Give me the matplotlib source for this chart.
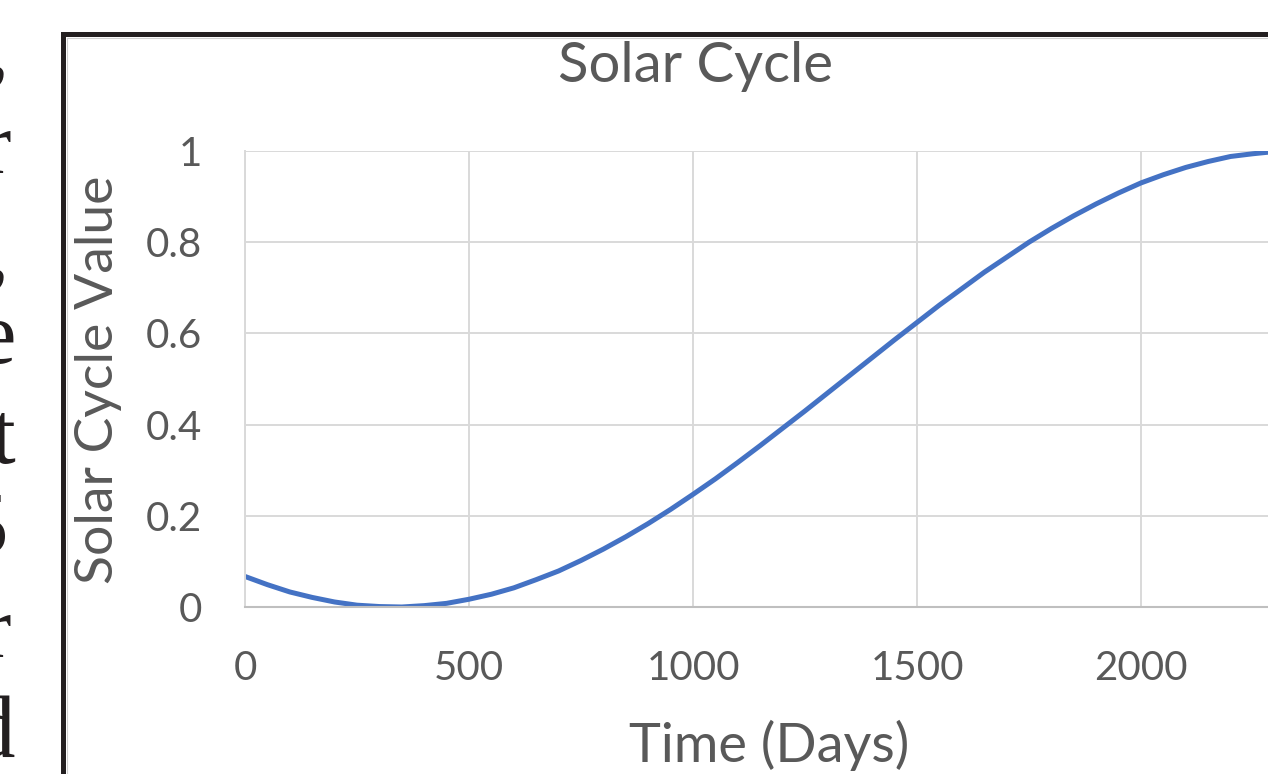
import matplotlib
matplotlib.use("Agg")
import matplotlib.pyplot as plt
from matplotlib.patches import Rectangle

# --- Data ---
days = [0, 50, 100, 150, 200, 250, 300, 350, 400, 450, 500, 550, 600, 650,
        700, 750, 800, 850, 900, 950, 1000, 1050, 1100, 1150, 1200, 1250,
        1300, 1350, 1400, 1450, 1500, 1550, 1600, 1650, 1700, 1750, 1800,
        1850, 1900, 1950, 2000, 2050, 2100, 2150, 2200, 2250, 2300, 2350]
solar_value = [0.067, 0.049, 0.033, 0.021, 0.011, 0.004, 0.001, 0.000, 0.003,
               0.008, 0.017, 0.028, 0.042, 0.060, 0.079, 0.102, 0.127, 0.154,
               0.183, 0.214, 0.247, 0.281, 0.317, 0.354, 0.392, 0.430, 0.469,
               0.508, 0.547, 0.586, 0.624, 0.662, 0.698, 0.734, 0.767, 0.800,
               0.830, 0.858, 0.884, 0.908, 0.930, 0.948, 0.964, 0.977, 0.988,
               0.994, 0.999, 1.000]

x_ticks = [0, 500, 1000, 1500, 2000]
y_ticks = [0, 0.2, 0.4, 0.6, 0.8, 1.0]
y_tick_labels = ["0", "0.2", "0.4", "0.6", "0.8", "1"]

# cut-off letters from the neighbouring text column
margin_chars = [",", "r", ",", "e", "t", "5", "r", "d"]

W, H = 1268, 774
TXT = "#595959"
GRID = "#d9d9d9"
FONT = "Lato"

fig = plt.figure(figsize=(W / 100, H / 100), dpi=100)
fig.patch.set_facecolor("white")

# plot area: x=0 at px 245, y=0 at px 607, y=1 at px 151, 224 px per 500 days
left = 245 / W
bottom = (H - 607) / H
height = (607 - 151) / H
width = 2500 * (224 / 500) / W
ax = fig.add_axes([left, bottom, width, height])

ax.plot(days, solar_value, color="#4472C4", linewidth=3.6, solid_capstyle="round")

ax.set_xlim(0, 2500)
ax.set_ylim(0, 1)
ax.set_xticks(x_ticks)
ax.set_yticks(y_ticks)
ax.set_yticklabels(y_tick_labels)
ax.grid(True, color=GRID, linewidth=1.4)
ax.set_axisbelow(True)
for s in ["top", "right"]:
    ax.spines[s].set_visible(False)
ax.spines["left"].set_color(GRID)
ax.spines["left"].set_linewidth(1.4)
ax.spines["bottom"].set_color("#bfbfbf")
ax.spines["bottom"].set_linewidth(1.5)
ax.tick_params(axis="both", length=0, labelsize=29, labelcolor=TXT)
ax.tick_params(axis="y", pad=31)
ax.tick_params(axis="x", pad=31)
for lab in ax.get_xticklabels() + ax.get_yticklabels():
    lab.set_family(FONT)

# titles placed in pixel coordinates
fig.text(696 / W, (H - 82) / H, "Solar Cycle", ha="center", va="baseline",
         fontsize=40.5, color=TXT, family=FONT)
fig.text(769 / W, (H - 762) / H, "Time (Days)", ha="center", va="baseline",
         fontsize=39, color=TXT, family=FONT)
fig.text(99 / W, (H - 380) / H, "Solar Cycle Value", ha="center", va="center",
         rotation=90, fontsize=38.5, color=TXT, family=FONT)

# black frame round the chart (cropped at right and bottom)
fig.add_artist(Rectangle((62.5 / W, -0.1), 2.0, (H - 34) / H + 0.1,
                         transform=fig.transFigure, fill=False,
                         edgecolor="#231f20", linewidth=3.6))
fig.add_artist(Rectangle((66.5 / W, -0.1), 2.0, (H - 37.5) / H + 0.1,
                         transform=fig.transFigure, fill=False,
                         edgecolor="#d0d0d0", linewidth=0.8))

# serif letters at the left page margin
baselines = [75, 173, 278, 363, 463, 553, 657, 757]
right_edges = [9, 11, 9, 16, 15, 8, 11, 15]
for ch, yb, xr in zip(margin_chars, baselines, right_edges):
    fig.text(xr / W, (H - yb) / H, ch, ha="right", va="baseline",
             fontsize=64, color="#231f20", family="Liberation Serif")

fig.savefig("out.png", dpi=100)
